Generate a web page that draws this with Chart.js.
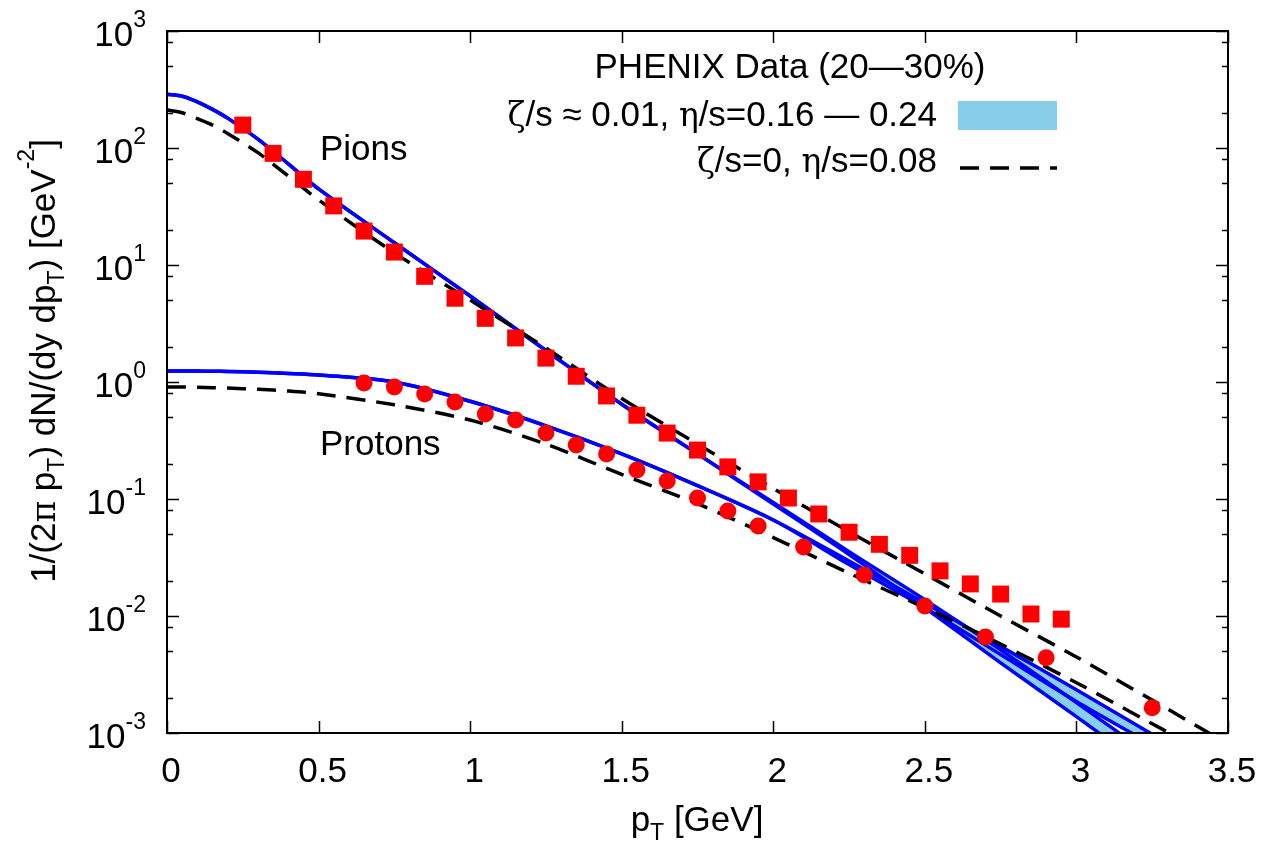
<!DOCTYPE html>
<html>
<head>
<meta charset="utf-8">
<script src="https://cdn.jsdelivr.net/npm/chart.js@4.4.0/dist/chart.umd.min.js"></script>
<style>
    html, body { margin: 0; padding: 0; background: #ffffff; }
    #wrap { width: 1263px; height: 843px; }
</style>
</head>
<body>
<div id="wrap"><canvas id="spectra" width="1263" height="843"></canvas></div>
<script>
// PHENIX data points
const pionPt = [0.25, 0.35, 0.45, 0.55, 0.65, 0.75, 0.85, 0.95, 1.05, 1.15, 1.25, 1.35, 1.45, 1.55,
    1.65, 1.75, 1.85, 1.95, 2.05, 2.15, 2.25, 2.35, 2.45, 2.55, 2.65, 2.75, 2.85, 2.95];
const pionYield = [157, 90, 54, 32, 19.5, 12.9, 8.0, 5.2, 3.5, 2.38, 1.6, 1.12, 0.76, 0.52,
    0.366, 0.262, 0.188, 0.14, 0.102, 0.0745, 0.052, 0.041, 0.033, 0.0243, 0.0188, 0.0154, 0.0104, 0.0094];

const protonPt = [0.65, 0.75, 0.85, 0.95, 1.05, 1.15, 1.25, 1.35, 1.45, 1.55, 1.65, 1.75, 1.85, 1.95,
    2.1, 2.3, 2.5, 2.7, 2.9, 3.25];
const protonYield = [0.98, 0.905, 0.79, 0.675, 0.532, 0.473, 0.366, 0.29, 0.243, 0.177, 0.1426, 0.102, 0.0789, 0.0587,
    0.0389, 0.0224, 0.0122, 0.0066, 0.0044, 0.00164];

// hydro curves
const curvePt = [0, 0.05, 0.1, 0.15, 0.2, 0.3, 0.4, 0.5, 0.75, 1.0, 1.25, 1.5, 1.75, 2.0, 2.25, 2.5, 2.75, 3.0, 3.25, 3.45];
// zeta/s ~ 0.01, eta/s = 0.16 - 0.24 band
const pionBandHi = [288, 277, 248, 214, 180, 119, 73.3, 44.7, 15.5, 5.43, 1.86, 0.646, 0.243, 0.0935, 0.0355, 0.0138, 0.00513, 0.00182, 0.00063, 0.00028];
const pionBandLo = [288, 277, 248, 214, 180, 119, 73.3, 44.7, 15.5, 5.43, 1.86, 0.646, 0.243, 0.0905, 0.0335, 0.01175, 0.00398, 0.00138, 0.000468, 0.0002];
const protonBandHi = [1.242, 1.241, 1.239, 1.235, 1.230, 1.211, 1.183, 1.148, 1.0, 0.684, 0.422, 0.243, 0.130, 0.0661, 0.0295, 0.0129, 0.0055, 0.00234, 0.000977, 0.0005];
const protonBandLo = [1.242, 1.241, 1.239, 1.235, 1.230, 1.211, 1.183, 1.148, 1.0, 0.684, 0.422, 0.243, 0.130, 0.0661, 0.0275, 0.01175, 0.00468, 0.00186, 0.00079, 0.00038];
// zeta/s = 0, eta/s = 0.08
const pionIdeal = [211, 200, 178, 157, 133, 91.2, 57.5, 36.0, 12.7, 5.01, 1.95, 0.724, 0.295, 0.123, 0.0525, 0.0229, 0.0100, 0.00447, 0.00191, 0.000955];
const protonIdeal = [0.906, 0.905, 0.902, 0.895, 0.887, 0.867, 0.838, 0.794, 0.638, 0.473, 0.295, 0.162, 0.0912, 0.0468, 0.0232, 0.01175, 0.00575, 0.00269, 0.0012, 0.00063];

// axes
const xTicks = [0, 0.5, 1, 1.5, 2, 2.5, 3, 3.5];
const xTickLabels = ["0", "0.5", "1", "1.5", "2", "2.5", "3", "3.5"];
const yDecades = [-3, -2, -1, 0, 1, 2, 3];
const yMinorMant = [2, 5, 8];

const FONT = "'Liberation Sans', Arial, sans-serif";
const GREEK = "'DejaVu Serif', 'Liberation Serif', serif";

function pts(xs, ys) {
    return xs.map((x, i) => ({ x: x, y: ys[i] }));
}

// draws a run of text pieces: [text, kind] with kind n / g (greek) / b (sub) / p (sup)
function richText(ctx, parts, x, y, align, supShift) {
    const fontOf = k => {
        if (k === "g") return "33px " + GREEK;
        if (k === "b" || k === "p") return "23px " + FONT;
        return "35px " + FONT;
    };
    let total = 0;
    parts.forEach(p => {
        ctx.font = fontOf(p[1]);
        total += ctx.measureText(p[0]).width;
    });
    let cx = x;
    if (align === "right") cx = x - total;
    if (align === "center") cx = x - total / 2;
    ctx.textAlign = "left";
    ctx.textBaseline = "alphabetic";
    parts.forEach(p => {
        ctx.font = fontOf(p[1]);
        let dy = 0;
        if (p[1] === "b") dy = 9;
        if (p[1] === "p") dy = -(supShift || 18);
        ctx.fillText(p[0], cx, y + dy);
        cx += ctx.measureText(p[0]).width;
    });
}

const framePlugin = {
    id: "frame",
    afterDraw(chart) {
        const ctx = chart.ctx;
        const a = chart.chartArea;
        const xs = chart.scales.x;
        const ys = chart.scales.y;
        ctx.save();
        ctx.strokeStyle = "#000";
        ctx.fillStyle = "#000";

        // ticks
        ctx.lineWidth = 1.5;
        ctx.beginPath();
        xTicks.forEach(v => {
            const px = Math.round(xs.getPixelForValue(v)) + 0.5;
            ctx.moveTo(px, a.bottom); ctx.lineTo(px, a.bottom - 12);
            ctx.moveTo(px, a.top); ctx.lineTo(px, a.top + 12);
        });
        yDecades.forEach(e => {
            const py = Math.round(ys.getPixelForValue(Math.pow(10, e))) + 0.5;
            ctx.moveTo(a.left, py); ctx.lineTo(a.left + 12, py);
            ctx.moveTo(a.right, py); ctx.lineTo(a.right - 12, py);
            if (e < 3) {
                yMinorMant.forEach(m => {
                    const pm = Math.round(ys.getPixelForValue(m * Math.pow(10, e))) + 0.5;
                    ctx.moveTo(a.left, pm); ctx.lineTo(a.left + 6, pm);
                    ctx.moveTo(a.right, pm); ctx.lineTo(a.right - 6, pm);
                });
            }
        });
        ctx.stroke();

        // frame
        ctx.lineWidth = 2;
        ctx.strokeRect(a.left, a.top, a.right - a.left, a.bottom - a.top);

        // tick labels
        ctx.font = "35px " + FONT;
        ctx.textAlign = "center";
        ctx.textBaseline = "alphabetic";
        xTicks.forEach((v, i) => {
            ctx.fillText(xTickLabels[i], xs.getPixelForValue(v) + 4, 782);
        });
        yDecades.forEach(e => {
            const py = ys.getPixelForValue(Math.pow(10, e));
            richText(ctx, [["10", "n"], [String(e), "p"]], 146, py + 15, "right", 19);
        });

        // axis titles
        richText(ctx, [["p", "n"], ["T", "b"], [" [GeV]", "n"]], 697, 831, "center");
        ctx.save();
        ctx.translate(55, 361);
        ctx.rotate(-Math.PI / 2);
        richText(ctx, [["1/(2", "n"], ["\u03c0", "g"], [" p", "n"], ["T", "b"], [") dN/(dy dp", "n"], ["T", "b"],
            [") [GeV", "n"], ["-2", "p"], ["]", "n"]], 0, 0, "center", 21);
        ctx.restore();

        // curve labels
        richText(ctx, [["Pions", "n"]], 320, 160, "left");
        richText(ctx, [["Protons", "n"]], 320, 455, "left");

        // key
        richText(ctx, [["PHENIX Data (20\u201430%)", "n"]], 790, 78, "center");
        richText(ctx, [["\u03b6", "g"], ["/s \u2248 0.01, ", "n"], ["\u03b7", "g"], ["/s=0.16 \u2014 0.24", "n"]], 937, 126, "right");
        richText(ctx, [["\u03b6", "g"], ["/s=0, ", "n"], ["\u03b7", "g"], ["/s=0.08", "n"]], 937, 172, "right");
        ctx.fillStyle = "#87ceeb";
        ctx.fillRect(958, 101, 99, 29);
        ctx.strokeStyle = "#000";
        ctx.lineWidth = 3.5;
        ctx.setLineDash([19, 11]);
        ctx.beginPath();
        ctx.moveTo(960, 168);
        ctx.lineTo(1057, 168);
        ctx.stroke();
        ctx.restore();
    }
};

const lineBase = {
    pointRadius: 0,
    borderWidth: 3.5,
    tension: 0.3,
    clip: { left: 3, top: 0, right: 0, bottom: 0 },
    fill: false,
};

new Chart(document.getElementById("spectra"), {
    type: "line",
    data: {
        datasets: [
            {
                label: "PHENIX pions",
                data: pts(pionPt, pionYield),
                showLine: false,
                pointStyle: "rect",
                pointRadius: 12,
                backgroundColor: "#ff0000",
                borderWidth: 0,
            },
            {
                label: "PHENIX protons",
                data: pts(protonPt, protonYield),
                showLine: false,
                pointStyle: "circle",
                pointRadius: 8.5,
                backgroundColor: "#ff0000",
                borderWidth: 0,
            },
            Object.assign({}, lineBase, {
                label: "pions ideal",
                data: pts(curvePt, pionIdeal),
                borderColor: "#000000",
                borderDash: [19, 11],
            }),
            Object.assign({}, lineBase, {
                label: "protons ideal",
                data: pts(curvePt, protonIdeal),
                borderColor: "#000000",
                borderDash: [19, 11],
            }),
            Object.assign({}, lineBase, {
                label: "pions band hi",
                data: pts(curvePt, pionBandHi),
                borderColor: "#0000ff",
                fill: "+1",
                backgroundColor: "#87ceeb",
            }),
            Object.assign({}, lineBase, {
                label: "pions band lo",
                data: pts(curvePt, pionBandLo),
                borderColor: "#0000ff",
            }),
            Object.assign({}, lineBase, {
                label: "protons band hi",
                data: pts(curvePt, protonBandHi),
                borderColor: "#0000ff",
                fill: "+1",
                backgroundColor: "#87ceeb",
            }),
            Object.assign({}, lineBase, {
                label: "protons band lo",
                data: pts(curvePt, protonBandLo),
                borderColor: "#0000ff",
            }),
        ],
    },
    options: {
        responsive: false,
        devicePixelRatio: 1,
        animation: false,
        layout: { padding: { left: 167, top: 31, right: 35, bottom: 110 } },
        scales: {
            x: { type: "linear", min: 0, max: 3.5, display: false },
            y: { type: "logarithmic", min: 0.001, max: 1000, display: false },
        },
        plugins: {
            legend: { display: false },
            tooltip: { enabled: false },
            filler: { drawTime: "beforeDatasetsDraw" },
        },
    },
    plugins: [framePlugin],
});
</script>
</body>
</html>
